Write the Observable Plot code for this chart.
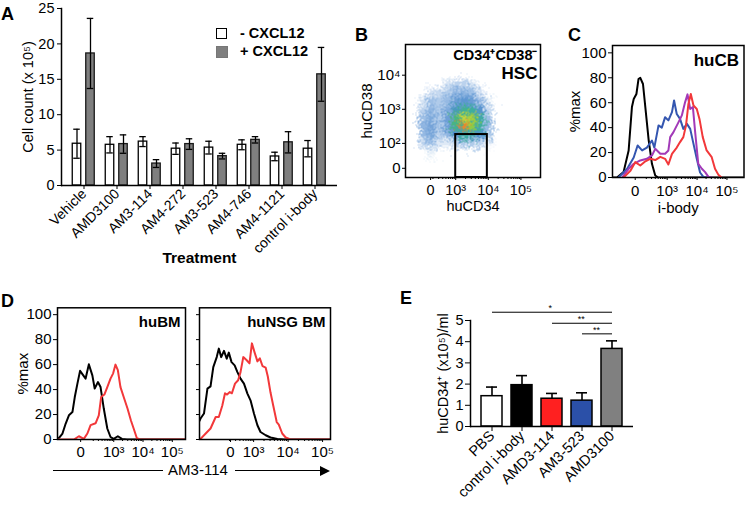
<!DOCTYPE html>
<html><head><meta charset="utf-8">
<script src="https://cdn.jsdelivr.net/npm/d3@7"></script>
<script src="https://cdn.jsdelivr.net/npm/@observablehq/plot@0.6"></script>
<style>
body{margin:0;background:#fff;}
#fig{position:relative;width:745px;height:505px;overflow:hidden;background:#fff;font-family:"Liberation Sans",Arial,Helvetica,sans-serif;color:#000}
.abs{position:absolute}
.letter{position:absolute;font-weight:bold;font-size:18px;line-height:18px}
</style></head><body><div id="fig"></div>
<script>
// ---------- Panel A data ----------
const treatments = ["Vehicle","AMD3100","AM3-114","AM4-272","AM3-523","AM4-746","AM4-1121","control i-body"];
const minusMean = [5.9,5.75,6.2,5.2,5.35,5.75,4.1,5.2];
const minusErr  = [2.05,1.15,0.7,0.8,0.9,0.7,0.6,1.15];
const plusMean  = [18.65,5.85,3.1,5.85,4.15,6.45,6.1,15.7];
const plusErr   = [4.95,1.3,0.55,0.75,0.4,0.45,1.5,3.8];
const aYTicks = [0,5,10,15,20,25];

// ---------- Panel B data (event density of the huCD34 x huCD38 plot, decade units; 0 = no events) ----------
const bGridX = [1.46,1.75,2.0,2.25,2.5,2.75,3.0,3.25,3.5,3.75,4.0,4.25,4.6,5.0,5.6];
const bGridY = [4.9,4.5,4.25,4.0,3.75,3.5,3.25,3.0,2.75,2.5,2.25,2.0,1.75,1.4,1.0];
const bDensity = [
  [0,0,0,0,0,0,0,0,0,0,0,0,0,0,0],
  [0,0,0,0,0,0,0,0,0,0,0,0,0,0,0],
  [0,0,0,0,0,0,0,0,0,0,0,0,0,0,0],
  [0,0,0,0,0,0,0,0,0,0,0,0,0,0,0],
  [0,0,0,0,0,0.05,0.1,0.1,0.05,0,0,0,0,0,0],
  [0,0,0,0.06,0.08,0.12,0.2,0.22,0.15,0.06,0,0,0,0,0],
  [0,0,0.05,0.15,0.12,0.18,0.3,0.38,0.32,0.18,0.03,0,0,0,0],
  [0,0,0.1,0.2,0.12,0.25,0.5,0.62,0.6,0.4,0.08,0,0,0,0],
  [0,0,0.15,0.25,0.12,0.3,0.66,0.85,0.82,0.58,0.15,0,0,0,0],
  [0,0,0.2,0.28,0.12,0.3,0.64,0.95,0.8,0.6,0.18,0,0,0,0],
  [0,0,0.18,0.26,0.1,0.2,0.45,0.58,0.55,0.42,0.12,0,0,0,0],
  [0,0,0.1,0.15,0.04,0.04,0.1,0.12,0.12,0.1,0.02,0,0,0,0],
  [0,0,0,0.03,0,0,0,0,0,0,0,0,0,0,0],
  [0,0,0,0,0,0,0,0,0,0,0,0,0,0,0],
  [0,0,0,0,0,0,0,0,0,0,0,0,0,0,0]
];
const densStops  = [0,0.05,0.15,0.3,0.45,0.6,0.75,0.88,1.0];
const densColors = ["#ffffff","#d6e4f4","#9fc0e6","#6e9fd6","#4f8fcc","#3fae9e","#5dbf4e","#dcd83a","#e8502a"];
const bGateX = [3.0,3.97];
const bGateY = [1.0,2.26];
const bXTicks = [2.23,3,4,5], bXLabels = ["0","10³","10⁴","10⁵"];
const bYTicks = [1.27,2,3,4], bYLabels = ["0","10²","10³","10⁴"];

// ---------- Panel C data (histograms, x in decade units) ----------
const cBlackX = [1.17,1.32,1.54,1.71,1.82,1.88,1.97,2.04,2.10,2.19,2.27,2.38,2.49,2.60,2.70,5.57];
const cBlackY = [0,0,4.3,21.7,56.5,63,67,79,80,75,56,30,11,1.6,0,0];
const cBlueX = [1.37,1.66,1.88,2.01,2.16,2.32,2.49,2.57,2.71,2.82,2.93,3.04,3.16,3.23,3.32,3.43,3.54,3.66,3.77,3.88,3.99,4.10,4.21,4.32];
const cBlueY = [0,7,16,25.7,21.7,24,29.7,24,41.8,40,48.4,45.8,52.5,61.8,51,47,39,43,39,27,15,4,0.5,0];
const cMagX = [1.49,1.71,1.88,2.10,2.32,2.49,2.60,2.77,2.93,3.04,3.10,3.21,3.38,3.49,3.60,3.68,3.77,3.86,3.93,4.04,4.16,4.27,4.38,4.49];
const cMagY = [0,7,11,13.7,15,17.7,23,19,19,21.7,32.4,36.4,44.4,49.8,60.5,66.7,55,56.5,37.8,11,7,4.3,0.5,0];
const cRedX = [1.54,1.77,1.93,2.10,2.27,2.43,2.60,2.77,2.93,3.04,3.16,3.32,3.43,3.54,3.63,3.71,3.79,3.88,3.99,4.08,4.19,4.32,4.49,4.60,4.71,4.82];
const cRedY = [0,5.4,12.3,9.6,13,15,14,16.6,15,10.4,19,24,28.4,32.4,41.8,59,67,57.8,55,47,32.4,21.7,16.3,7,2.3,0];
const cXTicks = [1.93,3,4,5];
const histYTicks = [0,20,40,60,80,100];

// ---------- Panel D data ----------
const dlBlackX = [1.08,1.14,1.25,1.36,1.47,1.59,1.67,1.76,1.85,1.96,2.04,2.15,2.27,2.35,2.46,2.55,2.66,2.78,2.89,3.00,3.14,3.28,3.45,5.45];
const dlBlackY = [0,1.6,4.8,12.8,19.4,22,34,44.8,55,51.4,48.8,60.2,51.4,40.8,46,42,24.8,8.8,2,0.5,2.6,0.5,0,0];
const dlRedX = [1.08,1.64,1.81,1.98,2.10,2.21,2.38,2.49,2.57,2.68,2.78,2.89,2.98,3.06,3.14,3.23,3.34,3.47,3.59,3.68,3.79,3.90,5.45];
const dlRedY = [0,0,2.6,0.5,4.8,11.5,13,19.4,34,36,42,48.8,53,60,55.5,42,34,24.8,15,8.8,1,0,0];
const drBlackX = [1.43,1.46,1.56,1.66,1.75,1.83,1.93,1.99,2.06,2.14,2.22,2.28,2.36,2.45,2.53,2.62,2.72,2.82,2.91,3.01,3.11,3.20,3.35,3.49,3.69,3.88,5.23];
const drBlackY = [15,16.8,20.8,40.8,42.6,58,66,72.8,66,71,64.8,69.6,62,59.4,54,48.8,44.8,36.8,31.4,20.8,11.4,6,3.4,1.6,0.5,0,0];
const drRedX = [1.43,1.46,1.61,1.75,1.90,1.99,2.09,2.17,2.23,2.31,2.37,2.46,2.55,2.62,2.70,2.80,2.88,2.95,3.03,3.11,3.18,3.26,3.35,3.41,3.49,3.57,3.67,3.73,3.83,3.93,4.07,5.23];
const drRedY = [0,0.5,4.8,8.8,18,18,27,37,36,38,37,44.8,47.5,54,66,63.5,61,77,69.6,62.6,65,58.7,57.5,50.7,37.6,27,14,12,4.8,1.6,0,0];
const dlXTicks = [1.87,3,4,5];
const drXTicks = [2.33,3,4,5];

// ---------- Panel E data ----------
const eGroups = ["PBS","control i-body","AMD3-114","AM3-523","AMD3100"];
const eMean = [1.43,1.95,1.31,1.22,3.66];
const eErr  = [0.43,0.45,0.25,0.37,0.38];
const eColors = ["#ffffff","#000000","#ff2020","#2b50a8","#808080"];
const sigFrom = ["PBS","AMD3-114","AM3-523"];
const sigTo   = ["AMD3100","AMD3100","AMD3100"];
const sigY    = [5.39,4.87,4.37];
const sigText = ["*","**","**"];
const eYTicks = [0,1,2,3,4,5];

const decLabels = ["0","10³","10⁴","10⁵"];

// ---------- helpers ----------
const fig = document.getElementById("fig");
const FONT = '"Liberation Sans", Arial, Helvetica, sans-serif';
function put(node, left, top) {
  const d = document.createElement("div");
  d.className = "abs"; d.style.left = left + "px"; d.style.top = top + "px";
  d.appendChild(node); fig.appendChild(d); return d;
}
function el(css, text, cls) {
  const e = document.createElement("div");
  if (cls) e.className = cls;
  e.style.cssText = css; if (text != null) e.textContent = text;
  fig.appendChild(e); return e;
}
const style = {fontFamily: FONT, fontSize: "14px", color: "black", background: "transparent", overflow: "visible"};
const zip = (xs, ys) => xs.map((x, i) => ({x, y: ys[i]}));
const fmt = (ticks, labels) => (d) => labels[ticks.indexOf(d)];
const minorDec = [];
for (let dcd = 2; dcd <= 4; dcd++) for (let k = 2; k <= 9; k++) minorDec.push(dcd + Math.log10(k));
const yLabel = (s, dx, fontSize) => Plot.text([s], {text: d => d, frameAnchor: "left", dx, rotate: -90, textAnchor: "middle", lineAnchor: "middle", fontSize});
const xLabel = (s, dy, fontSize, fontWeight = "normal") => Plot.text([s], {text: d => d, frameAnchor: "bottom", dy, textAnchor: "middle", lineAnchor: "middle", fontSize, fontWeight});

// ---------- Panel A ----------
const aRows = treatments.map((t, i) => ({t, m: minusMean[i], me: minusErr[i], p: plusMean[i], pe: plusErr[i]}));
const A = Plot.plot({
  width: 342, height: 270, marginLeft: 61, marginRight: 5, marginTop: 8, marginBottom: 85,
  style,
  x: {domain: treatments, paddingInner: 0, paddingOuter: 0.12, label: null},
  y: {domain: [0, 25], label: null},
  marks: [
    Plot.barY(aRows, {x: "t", y: "m", fill: "white", stroke: "black", strokeWidth: 1.3, insetLeft: 5.25, insetRight: 19.25}),
    Plot.barY(aRows, {x: "t", y: "p", fill: "#7f7f7f", stroke: "#1a1a1a", strokeWidth: 1.3, insetLeft: 18.75, insetRight: 5.75}),
    Plot.ruleX(aRows, {x: "t", y1: d => d.m - d.me, y2: d => d.m + d.me, dx: -7, strokeWidth: 1.3}),
    Plot.tickY(aRows, {x: "t", y: d => d.m + d.me, insetLeft: 6.25, insetRight: 20.25, strokeWidth: 1.3}),
    Plot.tickY(aRows, {x: "t", y: d => d.m - d.me, insetLeft: 6.25, insetRight: 20.25, strokeWidth: 1.3}),
    Plot.ruleX(aRows, {x: "t", y1: d => d.p - d.pe, y2: d => d.p + d.pe, dx: 6.5, strokeWidth: 1.3}),
    Plot.tickY(aRows, {x: "t", y: d => d.p + d.pe, insetLeft: 19.75, insetRight: 6.75, strokeWidth: 1.3}),
    Plot.tickY(aRows, {x: "t", y: d => d.p - d.pe, insetLeft: 19.75, insetRight: 6.75, strokeWidth: 1.3}),
    Plot.ruleY([0], {strokeWidth: 1.5}),
    Plot.frame({anchor: "left", strokeWidth: 1.5}),
    Plot.axisY({ticks: aYTicks, tickSize: 4, tickPadding: 3, fontSize: 14.5, label: null}),
    Plot.axisX({tickRotate: -45, tickSize: 4, tickPadding: 2, fontSize: 14, label: null}),
    yLabel("Cell count (x 10⁵)", -33, 14.5),
    xLabel("Treatment", 73, 15.5, "bold")
  ]
});
put(A, 0, 0);
// legend A
el("position:absolute;left:216px;top:28px;width:9px;height:9px;border:1.3px solid #000;background:#fff");
el("position:absolute;left:240px;top:25px;font-weight:bold;font-size:14.5px", "- CXCL12");
el("position:absolute;left:216px;top:46px;width:10px;height:10px;background:#7f7f7f;border:1px solid #777");
el("position:absolute;left:240px;top:43px;font-weight:bold;font-size:14.5px", "+ CXCL12");

// ---------- Panel B ----------
const bRows = [];
bGridY.forEach((y, r) => bGridX.forEach((x, c) => bRows.push({x, y, v: bDensity[r][c]})));
const B = Plot.plot({
  width: 200, height: 195, marginLeft: 60, marginRight: 5, marginTop: 24, marginBottom: 38,
  style,
  x: {domain: [1.46, 5.6], label: null},
  y: {domain: [1.0, 4.9], label: null},
  color: {type: "linear", domain: densStops, range: densColors, clamp: true},
  marks: [
    Plot.raster(bRows, {x: "x", y: "y", fill: "v", interpolate: "random-walk"}),
    Plot.rect([0], {x1: () => bGateX[0], x2: () => bGateX[1], y1: () => bGateY[0], y2: () => bGateY[1], fill: "none", stroke: "black", strokeWidth: 2}),
    Plot.frame({strokeWidth: 1.5}),
    Plot.axisX({ticks: minorDec, tickSize: 2, tickFormat: () => ""}),
    Plot.axisX({ticks: bXTicks, tickFormat: fmt(bXTicks, bXLabels), tickSize: 3, tickPadding: 4, fontSize: 14.5}),
    Plot.axisY({ticks: bYTicks, tickFormat: fmt(bYTicks, bYLabels), tickSize: 3, tickPadding: 2, fontSize: 15}),
    xLabel("huCD34", 28.5, 14.5),
    yLabel("huCD38", -38, 15),
    Plot.text(["CD34⁺CD38⁻"], {text: d => d, frameAnchor: "top-right", dx: -3, dy: 11, textAnchor: "end", lineAnchor: "middle", fontWeight: "bold", fontSize: 14.5}),
    Plot.text(["HSC"], {text: d => d, frameAnchor: "top-right", dx: -3, dy: 29, textAnchor: "end", lineAnchor: "middle", fontWeight: "bold", fontSize: 17})
  ]
});
put(B, 345, 20);

// ---------- Panel C ----------
const C = Plot.plot({
  width: 200, height: 195, marginLeft: 67, marginRight: 1.5, marginTop: 25, marginBottom: 38,
  style,
  x: {domain: [1.17, 5.57], label: null},
  y: {domain: [0, 105.9], label: null},
  marks: [
    Plot.line(zip(cBlackX, cBlackY), {x: "x", y: "y", stroke: "black", strokeWidth: 2, clip: true}),
    Plot.line(zip(cBlueX, cBlueY), {x: "x", y: "y", stroke: "#3456b0", strokeWidth: 2, clip: true}),
    Plot.line(zip(cMagX, cMagY), {x: "x", y: "y", stroke: "#a23ab8", strokeWidth: 2, clip: true}),
    Plot.line(zip(cRedX, cRedY), {x: "x", y: "y", stroke: "#f2383a", strokeWidth: 2, clip: true}),
    Plot.frame({strokeWidth: 1.5}),
    Plot.axisX({ticks: minorDec, tickSize: 2, tickFormat: () => ""}),
    Plot.axisX({ticks: cXTicks, tickFormat: fmt(cXTicks, decLabels), tickSize: 3, tickPadding: 5, fontSize: 15}),
    Plot.axisY({ticks: histYTicks, tickSize: 4, tickPadding: 2, fontSize: 15}),
    xLabel("i-body", 31, 15),
    yLabel("%max", -37, 15),
    Plot.text(["huCB"], {text: d => d, frameAnchor: "top-right", dx: -5, dy: 15, textAnchor: "end", lineAnchor: "middle", fontWeight: "bold", fontSize: 17})
  ]
});
put(C, 545, 20);

// ---------- Panel D ----------
const D1 = Plot.plot({
  width: 190, height: 175, marginLeft: 57, marginRight: 5, marginTop: 17.3, marginBottom: 26,
  style,
  x: {domain: [1.08, 5.45], label: null},
  y: {domain: [0, 105.5], label: null},
  marks: [
    Plot.line(zip(dlBlackX, dlBlackY), {x: "x", y: "y", stroke: "black", strokeWidth: 2, clip: true}),
    Plot.line(zip(dlRedX, dlRedY), {x: "x", y: "y", stroke: "#f2383a", strokeWidth: 2, clip: true}),
    Plot.frame({strokeWidth: 1.5}),
    Plot.axisX({ticks: minorDec, tickSize: 2, tickFormat: () => ""}),
    Plot.axisX({ticks: dlXTicks, tickFormat: fmt(dlXTicks, decLabels), tickSize: 3, tickPadding: 4, fontSize: 15}),
    Plot.axisY({ticks: histYTicks, tickSize: 4, tickPadding: 2, fontSize: 15}),
    yLabel("%max", -34, 15),
    Plot.text(["huBM"], {text: d => d, frameAnchor: "top-right", dx: -5, dy: 14, textAnchor: "end", lineAnchor: "middle", fontWeight: "bold", fontSize: 15})
  ]
});
put(D1, 0, 290);
const D2 = Plot.plot({
  width: 145, height: 175, marginLeft: 9, marginRight: 5, marginTop: 17.3, marginBottom: 26,
  style,
  x: {domain: [1.43, 5.23], label: null},
  y: {domain: [0, 105.5], label: null},
  marks: [
    Plot.line(zip(drBlackX, drBlackY), {x: "x", y: "y", stroke: "black", strokeWidth: 2, clip: true}),
    Plot.line(zip(drRedX, drRedY), {x: "x", y: "y", stroke: "#f2383a", strokeWidth: 2, clip: true}),
    Plot.frame({strokeWidth: 1.5}),
    Plot.axisX({ticks: minorDec, tickSize: 2, tickFormat: () => ""}),
    Plot.axisX({ticks: drXTicks, tickFormat: fmt(drXTicks, decLabels), tickSize: 3, tickPadding: 4, fontSize: 15}),
    Plot.axisY({ticks: histYTicks, tickSize: 3, tickFormat: () => ""}),
    Plot.text(["huNSG BM"], {text: d => d, frameAnchor: "top-right", dx: -5, dy: 14, textAnchor: "end", lineAnchor: "middle", fontWeight: "bold", fontSize: 15})
  ]
});
put(D2, 190, 290);
// axis arrow for D
el("position:absolute;left:53px;top:470px;width:110px;height:0;border-top:1.5px solid #000");
el("position:absolute;left:163px;top:461px;width:70px;text-align:center;font-size:15px", "AM3-114");
el("position:absolute;left:235px;top:470px;width:86px;height:0;border-top:1.5px solid #000");
el("position:absolute;left:320px;top:466px;width:0;height:0;border-top:5px solid transparent;border-bottom:5px solid transparent;border-left:10px solid #000");

// ---------- Panel E ----------
const eRows = eGroups.map((g, i) => ({g, m: eMean[i], e: eErr[i], c: eColors[i]}));
const ePad = 0.29, eW = 240, eML = 70, eMR = 7;
const eStep = (eW - eML - eMR) / (eGroups.length + ePad);
const sigRows = sigFrom.map((f, i) => ({from: f, to: sigTo[i], y: sigY[i], s: sigText[i],
  span: eGroups.indexOf(sigTo[i]) - eGroups.indexOf(f)}));
const E = Plot.plot({
  width: eW, height: 215, marginLeft: eML, marginRight: eMR, marginTop: 30, marginBottom: 79,
  style,
  x: {domain: eGroups, padding: ePad, label: null},
  y: {domain: [0, 5], label: null},
  color: {type: "identity"},
  marks: [
    Plot.ruleX(eRows, {x: "g", y1: "m", y2: d => d.m + d.e, strokeWidth: 1.6}),
    Plot.tickY(eRows, {x: "g", y: d => d.m + d.e, insetLeft: 5, insetRight: 5, strokeWidth: 1.6}),
    Plot.barY(eRows, {x: "g", y: "m", fill: "c", stroke: "black", strokeWidth: 1.5}),
    Plot.ruleY([0], {strokeWidth: 1.5}),
    Plot.frame({anchor: "left", strokeWidth: 1.5}),
    Plot.link(sigRows, {x1: "from", x2: "to", y1: "y", y2: "y", stroke: "black", strokeWidth: 1}),
    ...sigRows.map(r => Plot.text([r], {x: "to", y: "y", text: "s", dx: -r.span * eStep / 2, dy: -4, fontSize: 9})),
    Plot.axisY({ticks: eYTicks, tickFormat: d3.format("d"), tickSize: 5, tickPadding: 2, fontSize: 14.5}),
    Plot.axisX({tickRotate: -45, tickSize: 5, tickPadding: 2, fontSize: 14.5}),
    yLabel("huCD34⁺ (x10⁵)/ml", -27, 14.5)
  ]
});
put(E, 400, 290);

// panel letters
el("left:1px;top:5px", "A", "letter");
el("left:355px;top:26px", "B", "letter");
el("left:568px;top:26px", "C", "letter");
el("left:1px;top:292px", "D", "letter");
el("left:400px;top:289px", "E", "letter");
</script></body></html>
